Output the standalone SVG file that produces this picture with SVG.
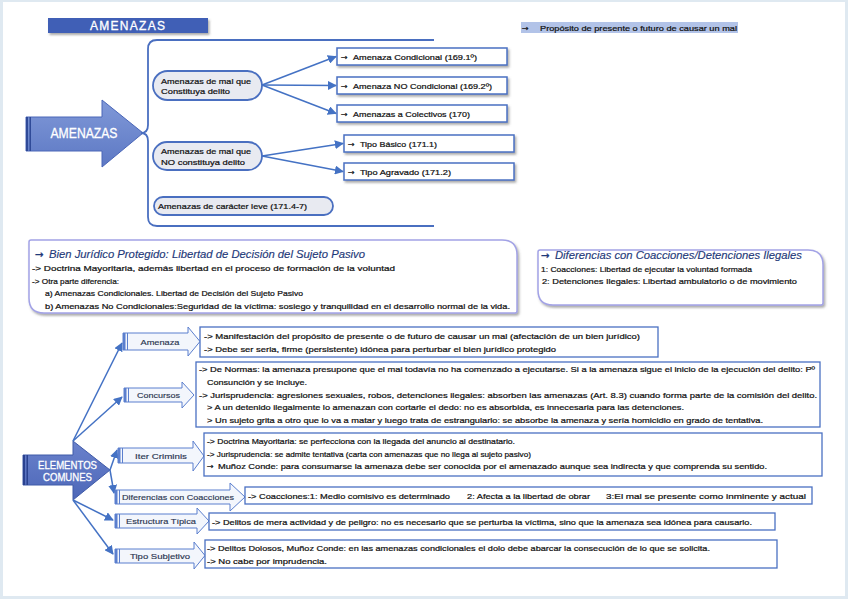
<svg xmlns="http://www.w3.org/2000/svg" width="848" height="599" viewBox="0 0 848 599">
<style>
text{font-family:"Liberation Sans",Arial,sans-serif;fill:#111;}
.t{font-size:8px;stroke:#111;stroke-width:0.22;}
.lbl{font-size:8px;fill:#2a3550;stroke:#2a3550;stroke-width:0.15;text-anchor:middle;}
.wh{fill:#fff;stroke:#fff;stroke-width:0.3;}
.ttl{font-size:10.5px;font-style:italic;fill:#1f3a7a;stroke:#1f3a7a;stroke-width:0.15;}
.ar{font-family:"DejaVu Sans",sans-serif;}
.box{fill:#fff;stroke:#4a70c2;stroke-width:1.3;}
.sbox{fill:#fff;stroke:#4a70c2;stroke-width:1.5;}
.pill{fill:#e8eaf1;stroke:#4a6fc0;stroke-width:1.8;}
.lab{fill:#f3f6fc;stroke:#5b7fce;stroke-width:1;}
.stripe{fill:#5b7fce;}
.con{stroke:#4472c4;stroke-width:1.5;fill:none;}
.note{fill:#fff;stroke:#a2a2e6;stroke-width:1.5;}
</style>
<defs>
<marker id="ah" viewBox="0 0 10 10" refX="9" refY="5" markerWidth="6" markerHeight="6" orient="auto" markerUnits="strokeWidth">
<path d="M0,0 L10,5 L0,10 z" fill="#4472c4"/>
</marker>
<linearGradient id="g1" x1="0" y1="0" x2="0" y2="1">
<stop offset="0" stop-color="#8099d8"/><stop offset="1" stop-color="#5d78c4"/>
</linearGradient>
<linearGradient id="g2" x1="0" y1="0" x2="0" y2="1">
<stop offset="0" stop-color="#6a82cc"/><stop offset="1" stop-color="#4d67b8"/>
</linearGradient>
<filter id="sh" x="-5%" y="-10%" width="115%" height="140%">
<feDropShadow dx="1.5" dy="2" stdDeviation="1" flood-color="#555" flood-opacity="0.5"/>
</filter>
</defs>

<!-- page -->
<rect x="0" y="0" width="848" height="599" fill="#dfe9f1"/>
<rect x="3" y="2" width="842" height="594" fill="#fff"/>

<!-- title -->
<g id="title">
<rect x="48" y="18" width="160" height="15" fill="#3f5fb6" filter="url(#sh)"/>
<text x="90" y="30" font-size="12" class="wh" textLength="75" lengthAdjust="spacing">AMENAZAS</text>
</g>

<g id="proposito">
<rect x="521" y="22" width="217" height="11" fill="#b2c3e8"/>
<text x="522" y="30.5" class="t ar">→</text>
<text x="540" y="30.5" class="t" textLength="197" lengthAdjust="spacingAndGlyphs">Propósito de presente o futuro de causar un mal</text>
</g>

<!-- big arrow AMENAZAS -->
<g id="amenazas-arrow">
<polygon points="26,117 102,117 102,100 143,133 102,167 102,151 26,151" fill="url(#g1)" stroke="#4a66b8" stroke-width="1"/>
<rect x="26" y="117" width="2" height="34" fill="#2f4a98"/>
<rect x="29.5" y="117" width="1.5" height="34" fill="#2f4a98"/>
<text x="84" y="138" font-size="14" text-anchor="middle" class="wh" textLength="67" lengthAdjust="spacingAndGlyphs">AMENAZAS</text>
</g>

<!-- brace -->
<g id="brace">
<path d="M434,40 L157,40 Q148,40 148,49 L148,125 Q148,133 141,133 Q148,133 148,141 L148,217 Q148,226 157,226 L434,226" fill="none" stroke="#4a6fc0" stroke-width="1.8"/>
</g>

<g id="n-constituya">
<rect x="153" y="71" width="109" height="29" rx="14.5" class="pill"/>
<text x="161" y="83.5" class="t" textLength="90" lengthAdjust="spacingAndGlyphs">Amenazas de mal que</text>
<text x="161" y="94" class="t" textLength="69" lengthAdjust="spacingAndGlyphs">Constituya delito</text>
</g>
<g id="n-noconstituya">
<rect x="153" y="142" width="109" height="28" rx="14" class="pill"/>
<text x="161" y="153.5" class="t" textLength="90" lengthAdjust="spacingAndGlyphs">Amenazas de mal que</text>
<text x="161" y="164.5" class="t" textLength="84" lengthAdjust="spacingAndGlyphs">NO constituya delito</text>
</g>
<g id="n-leve">
<rect x="154" y="197" width="179" height="18" rx="9" class="pill"/>
<text x="158" y="209" class="t" textLength="149" lengthAdjust="spacingAndGlyphs">Amenazas de carácter leve (171.4-7)</text>
</g>

<g id="n-condicional">
<rect x="337" y="48" width="170" height="17" class="sbox" filter="url(#sh)"/>
<text x="341" y="59.5" class="t ar">→</text>
<text x="353" y="59.5" class="t" textLength="124" lengthAdjust="spacingAndGlyphs">Amenaza Condicional (169.1º)</text>
</g>
<g id="n-nocondicional">
<rect x="337" y="77" width="170" height="17" class="sbox" filter="url(#sh)"/>
<text x="341" y="88.5" class="t ar">→</text>
<text x="353" y="88.5" class="t" textLength="139" lengthAdjust="spacingAndGlyphs">Amenaza NO Condicional (169.2º)</text>
</g>
<g id="n-colectivos">
<rect x="337" y="105" width="170" height="17" class="sbox" filter="url(#sh)"/>
<text x="341" y="116.5" class="t ar">→</text>
<text x="353" y="116.5" class="t" textLength="117" lengthAdjust="spacingAndGlyphs">Amenazas a Colectivos (170)</text>
</g>
<g id="n-basico">
<rect x="344" y="135" width="170" height="17" class="sbox" filter="url(#sh)"/>
<text x="348" y="146.5" class="t ar">→</text>
<text x="360" y="146.5" class="t" textLength="77" lengthAdjust="spacingAndGlyphs">Tipo Básico (171.1)</text>
</g>
<g id="n-agravado">
<rect x="344" y="163" width="170" height="17" class="sbox" filter="url(#sh)"/>
<text x="348" y="174.5" class="t ar">→</text>
<text x="360" y="174.5" class="t" textLength="91" lengthAdjust="spacingAndGlyphs">Tipo Agravado (171.2)</text>
</g>

<!-- Bien juridico -->
<g id="bien-juridico">
<path d="M29,242 Q29,240 31,240 L502,240 Q517,240 517,255 L517,311 Q517,313 515,313 L44,313 Q29,313 29,298 Z" class="note" filter="url(#sh)"/>
<text x="35" y="258" class="ttl ar" font-style="normal" font-weight="bold">→</text>
<text x="49" y="258" class="ttl" textLength="316" lengthAdjust="spacingAndGlyphs">Bien Jurídico Protegido: Libertad de Decisión del Sujeto Pasivo</text>
<text x="32" y="271" class="t" textLength="363" lengthAdjust="spacingAndGlyphs">-&gt; Doctrina Mayoritaria, además libertad en el proceso de formación de la voluntad</text>
<text x="32" y="284" class="t" textLength="87" lengthAdjust="spacingAndGlyphs">-&gt; Otra parte diferencia:</text>
<text x="45" y="296" class="t" textLength="258" lengthAdjust="spacingAndGlyphs">a) Amenazas Condicionales. Libertad de Decisión del Sujeto Pasivo</text>
<text x="45" y="309" class="t" textLength="465" lengthAdjust="spacingAndGlyphs">b) Amenazas No Condicionales:Seguridad de la víctima: sosiego y tranquilidad en el desarrollo normal de la vida.</text>
</g>

<g id="diferencias-note">
<path d="M538,252 Q538,250 540,250 L808,250 Q823,250 823,265 L823,303 Q823,305 821,305 L553,305 Q538,305 538,290 Z" class="note" filter="url(#sh)"/>
<text x="541" y="259" class="ttl ar" font-style="normal" font-weight="bold">→</text>
<text x="555" y="259" class="ttl" textLength="247" lengthAdjust="spacingAndGlyphs">Diferencias con Coacciones/Detenciones Ilegales</text>
<text x="541" y="272" class="t" textLength="211" lengthAdjust="spacingAndGlyphs">1: Coacciones: Libertad de ejecutar la voluntad formada</text>
<text x="542" y="284" class="t" textLength="255" lengthAdjust="spacingAndGlyphs">2: Detenciones Ilegales: Libertad ambulatorio o de movimiento</text>
</g>

<!-- ELEMENTOS COMUNES -->
<g id="elementos-arrow">
<polygon points="23,455 73,455 73,441 110,470 73,500 73,485 23,485" fill="url(#g2)" stroke="#3f5aa8" stroke-width="1"/>
<rect x="23" y="455" width="2" height="30" fill="#2a4290"/>
<rect x="26.5" y="455" width="1.5" height="30" fill="#2a4290"/>
<text x="67.5" y="469" font-size="11" text-anchor="middle" class="wh" textLength="59" lengthAdjust="spacingAndGlyphs">ELEMENTOS</text>
<text x="67.5" y="481" font-size="11" text-anchor="middle" class="wh" textLength="49" lengthAdjust="spacingAndGlyphs">COMUNES</text>
</g>

<!-- connectors -->
<g id="connectors">
<line x1="262" y1="85" x2="336" y2="56.5" class="con" marker-end="url(#ah)"/>
<line x1="262" y1="85" x2="336" y2="85.5" class="con" marker-end="url(#ah)"/>
<line x1="262" y1="85" x2="336" y2="113.5" class="con" marker-end="url(#ah)"/>
<line x1="262" y1="156" x2="343" y2="143.5" class="con" marker-end="url(#ah)"/>
<line x1="262" y1="156" x2="343" y2="171.5" class="con" marker-end="url(#ah)"/>
<line x1="73" y1="441" x2="122" y2="343" class="con" marker-end="url(#ah)"/>
<line x1="73" y1="441" x2="122" y2="397" class="con" marker-end="url(#ah)"/>
<line x1="110" y1="470" x2="117" y2="450" class="con" marker-end="url(#ah)"/>
<line x1="110" y1="470" x2="114" y2="493" class="con" marker-end="url(#ah)"/>
<line x1="73" y1="500" x2="113" y2="520" class="con" marker-end="url(#ah)"/>
<line x1="73" y1="500" x2="113" y2="554" class="con" marker-end="url(#ah)"/>
</g>

<!-- Amenaza -->
<g id="l-amenaza">
<path d="M123,333 L188,333 L188,327 L200,341.5 L188,356 L188,350 L123,350 Z" class="lab"/>
<rect x="123" y="333" width="2.5" height="17" class="stripe"/><rect x="127" y="333" width="1" height="17" class="stripe"/>
<text x="160" y="344.5" class="lbl" textLength="39" lengthAdjust="spacingAndGlyphs">Amenaza</text>
</g>
<g id="c-amenaza">
<rect x="200" y="327" width="458" height="30" class="box"/>
<text x="204" y="339" class="t" textLength="436" lengthAdjust="spacingAndGlyphs">-&gt; Manifestación del propósito de presente o de futuro de causar un mal (afectación de un bien jurídico)</text>
<text x="204" y="352" class="t" textLength="352" lengthAdjust="spacingAndGlyphs">-&gt; Debe ser seria, firme (persistente) idónea para perturbar el bien jurídico protegido</text>
</g>

<!-- Concursos -->
<g id="l-concursos">
<path d="M124,388 L182,388 L182,382 L194,395 L182,408 L182,402 L124,402 Z" class="lab"/>
<rect x="124" y="388" width="2.5" height="14" class="stripe"/><rect x="128" y="388" width="1" height="14" class="stripe"/>
<text x="158.5" y="398" class="lbl" textLength="43" lengthAdjust="spacingAndGlyphs">Concursos</text>
</g>
<g id="c-concursos">
<rect x="196" y="362" width="624" height="65" class="box"/>
<text x="199" y="372" class="t" textLength="616" lengthAdjust="spacingAndGlyphs">-&gt; De Normas: la amenaza presupone que el mal todavía no ha comenzado a ejecutarse. Si a la amenaza sigue el inicio de la ejecución del delito: Pº</text>
<text x="207" y="384.5" class="t" textLength="100" lengthAdjust="spacingAndGlyphs">Consunción y se incluye.</text>
<text x="199" y="397.5" class="t" textLength="618" lengthAdjust="spacingAndGlyphs">-&gt; Jurisprudencia: agresiones sexuales, robos, detenciones ilegales: absorben las amenazas (Art. 8.3) cuando forma parte de la comisión del delito.</text>
<text x="207" y="410" class="t" textLength="477" lengthAdjust="spacingAndGlyphs">&gt; A un detenido ilegalmente lo amenazan con cortarle el dedo: no es absorbida, es innecesaria para las detenciones.</text>
<text x="207" y="422.5" class="t" textLength="556" lengthAdjust="spacingAndGlyphs">&gt; Un sujeto grita a otro que lo va a matar y luego trata de estrangularlo: se absorbe la amenaza y sería homicidio en grado de tentativa.</text>
</g>

<!-- Iter Criminis -->
<g id="l-iter">
<path d="M118,448 L193,448 L193,441 L204,456 L193,471 L193,463 L118,463 Z" class="lab"/>
<rect x="118" y="448" width="2.5" height="15" class="stripe"/><rect x="122" y="448" width="1" height="15" class="stripe"/>
<text x="161" y="459" class="lbl" textLength="52" lengthAdjust="spacingAndGlyphs">Iter Criminis</text>
</g>
<g id="c-iter">
<rect x="204" y="433" width="618" height="43" class="box"/>
<text x="207" y="444" class="t" textLength="308" lengthAdjust="spacingAndGlyphs">-&gt; Doctrina Mayoritaria: se perfecciona con la llegada del anuncio al destinatario.</text>
<text x="207" y="456.5" class="t" textLength="324" lengthAdjust="spacingAndGlyphs">-&gt; Jurisprudencia: se admite tentativa (carta con amenazas que no llega al sujeto pasivo)</text>
<text x="207" y="469" class="t ar">→</text>
<text x="218" y="469" class="t" textLength="549" lengthAdjust="spacingAndGlyphs">Muñoz Conde: para consumarse la amenaza debe ser conocida por el amenazado aunque sea indirecta y que comprenda su sentido.</text>
</g>

<!-- Diferencias con Coacciones -->
<g id="l-diferencias">
<path d="M115,490 L230,490 L230,483 L245,497 L230,511 L230,504 L115,504 Z" class="lab"/>
<rect x="115" y="490" width="2.5" height="14" class="stripe"/><rect x="119" y="490" width="1" height="14" class="stripe"/>
<text x="178" y="500" class="lbl" textLength="112" lengthAdjust="spacingAndGlyphs">Diferencias con Coacciones</text>
</g>
<g id="c-diferencias">
<rect x="245" y="487" width="567" height="17" class="box"/>
<text x="248" y="498.5" class="t" textLength="202" lengthAdjust="spacingAndGlyphs">-&gt; Coacciones:1: Medio comisivo es determinado</text>
<text x="467" y="498.5" class="t" textLength="123" lengthAdjust="spacingAndGlyphs">2: Afecta a la libertad de obrar</text>
<text x="606" y="498.5" class="t" textLength="200" lengthAdjust="spacingAndGlyphs">3:El mal se presente como inminente y actual</text>
</g>

<!-- Estructura Tipica -->
<g id="l-estructura">
<path d="M115,514 L197,514 L197,508 L209,521 L197,534 L197,528 L115,528 Z" class="lab"/>
<rect x="115" y="514" width="2.5" height="14" class="stripe"/><rect x="119" y="514" width="1" height="14" class="stripe"/>
<text x="161" y="524" class="lbl" textLength="70" lengthAdjust="spacingAndGlyphs">Estructura Típica</text>
</g>
<g id="c-estructura">
<rect x="209" y="513" width="566" height="17" class="box"/>
<text x="212" y="524.5" class="t" textLength="540" lengthAdjust="spacingAndGlyphs">-&gt; Delitos de mera actividad y de peligro: no es necesario que se perturba la víctima, sino que la amenaza sea idónea para causarlo.</text>
</g>

<!-- Tipo Subjetivo -->
<g id="l-subjetivo">
<path d="M115,549 L194,549 L194,542 L205,555.5 L194,569 L194,563 L115,563 Z" class="lab"/>
<rect x="115" y="549" width="2.5" height="14" class="stripe"/><rect x="119" y="549" width="1" height="14" class="stripe"/>
<text x="160" y="559" class="lbl" textLength="60" lengthAdjust="spacingAndGlyphs">Tipo Subjetivo</text>
</g>
<g id="c-subjetivo">
<rect x="205" y="540" width="572" height="28" class="box"/>
<text x="207" y="551" class="t" textLength="503" lengthAdjust="spacingAndGlyphs">-&gt; Delitos Dolosos, Muñoz Conde: en las amenazas condicionales el dolo debe abarcar la consecución de lo que se solicita.</text>
<text x="207" y="564" class="t" textLength="120" lengthAdjust="spacingAndGlyphs">-&gt; No cabe por imprudencia.</text>
</g>
</svg>
